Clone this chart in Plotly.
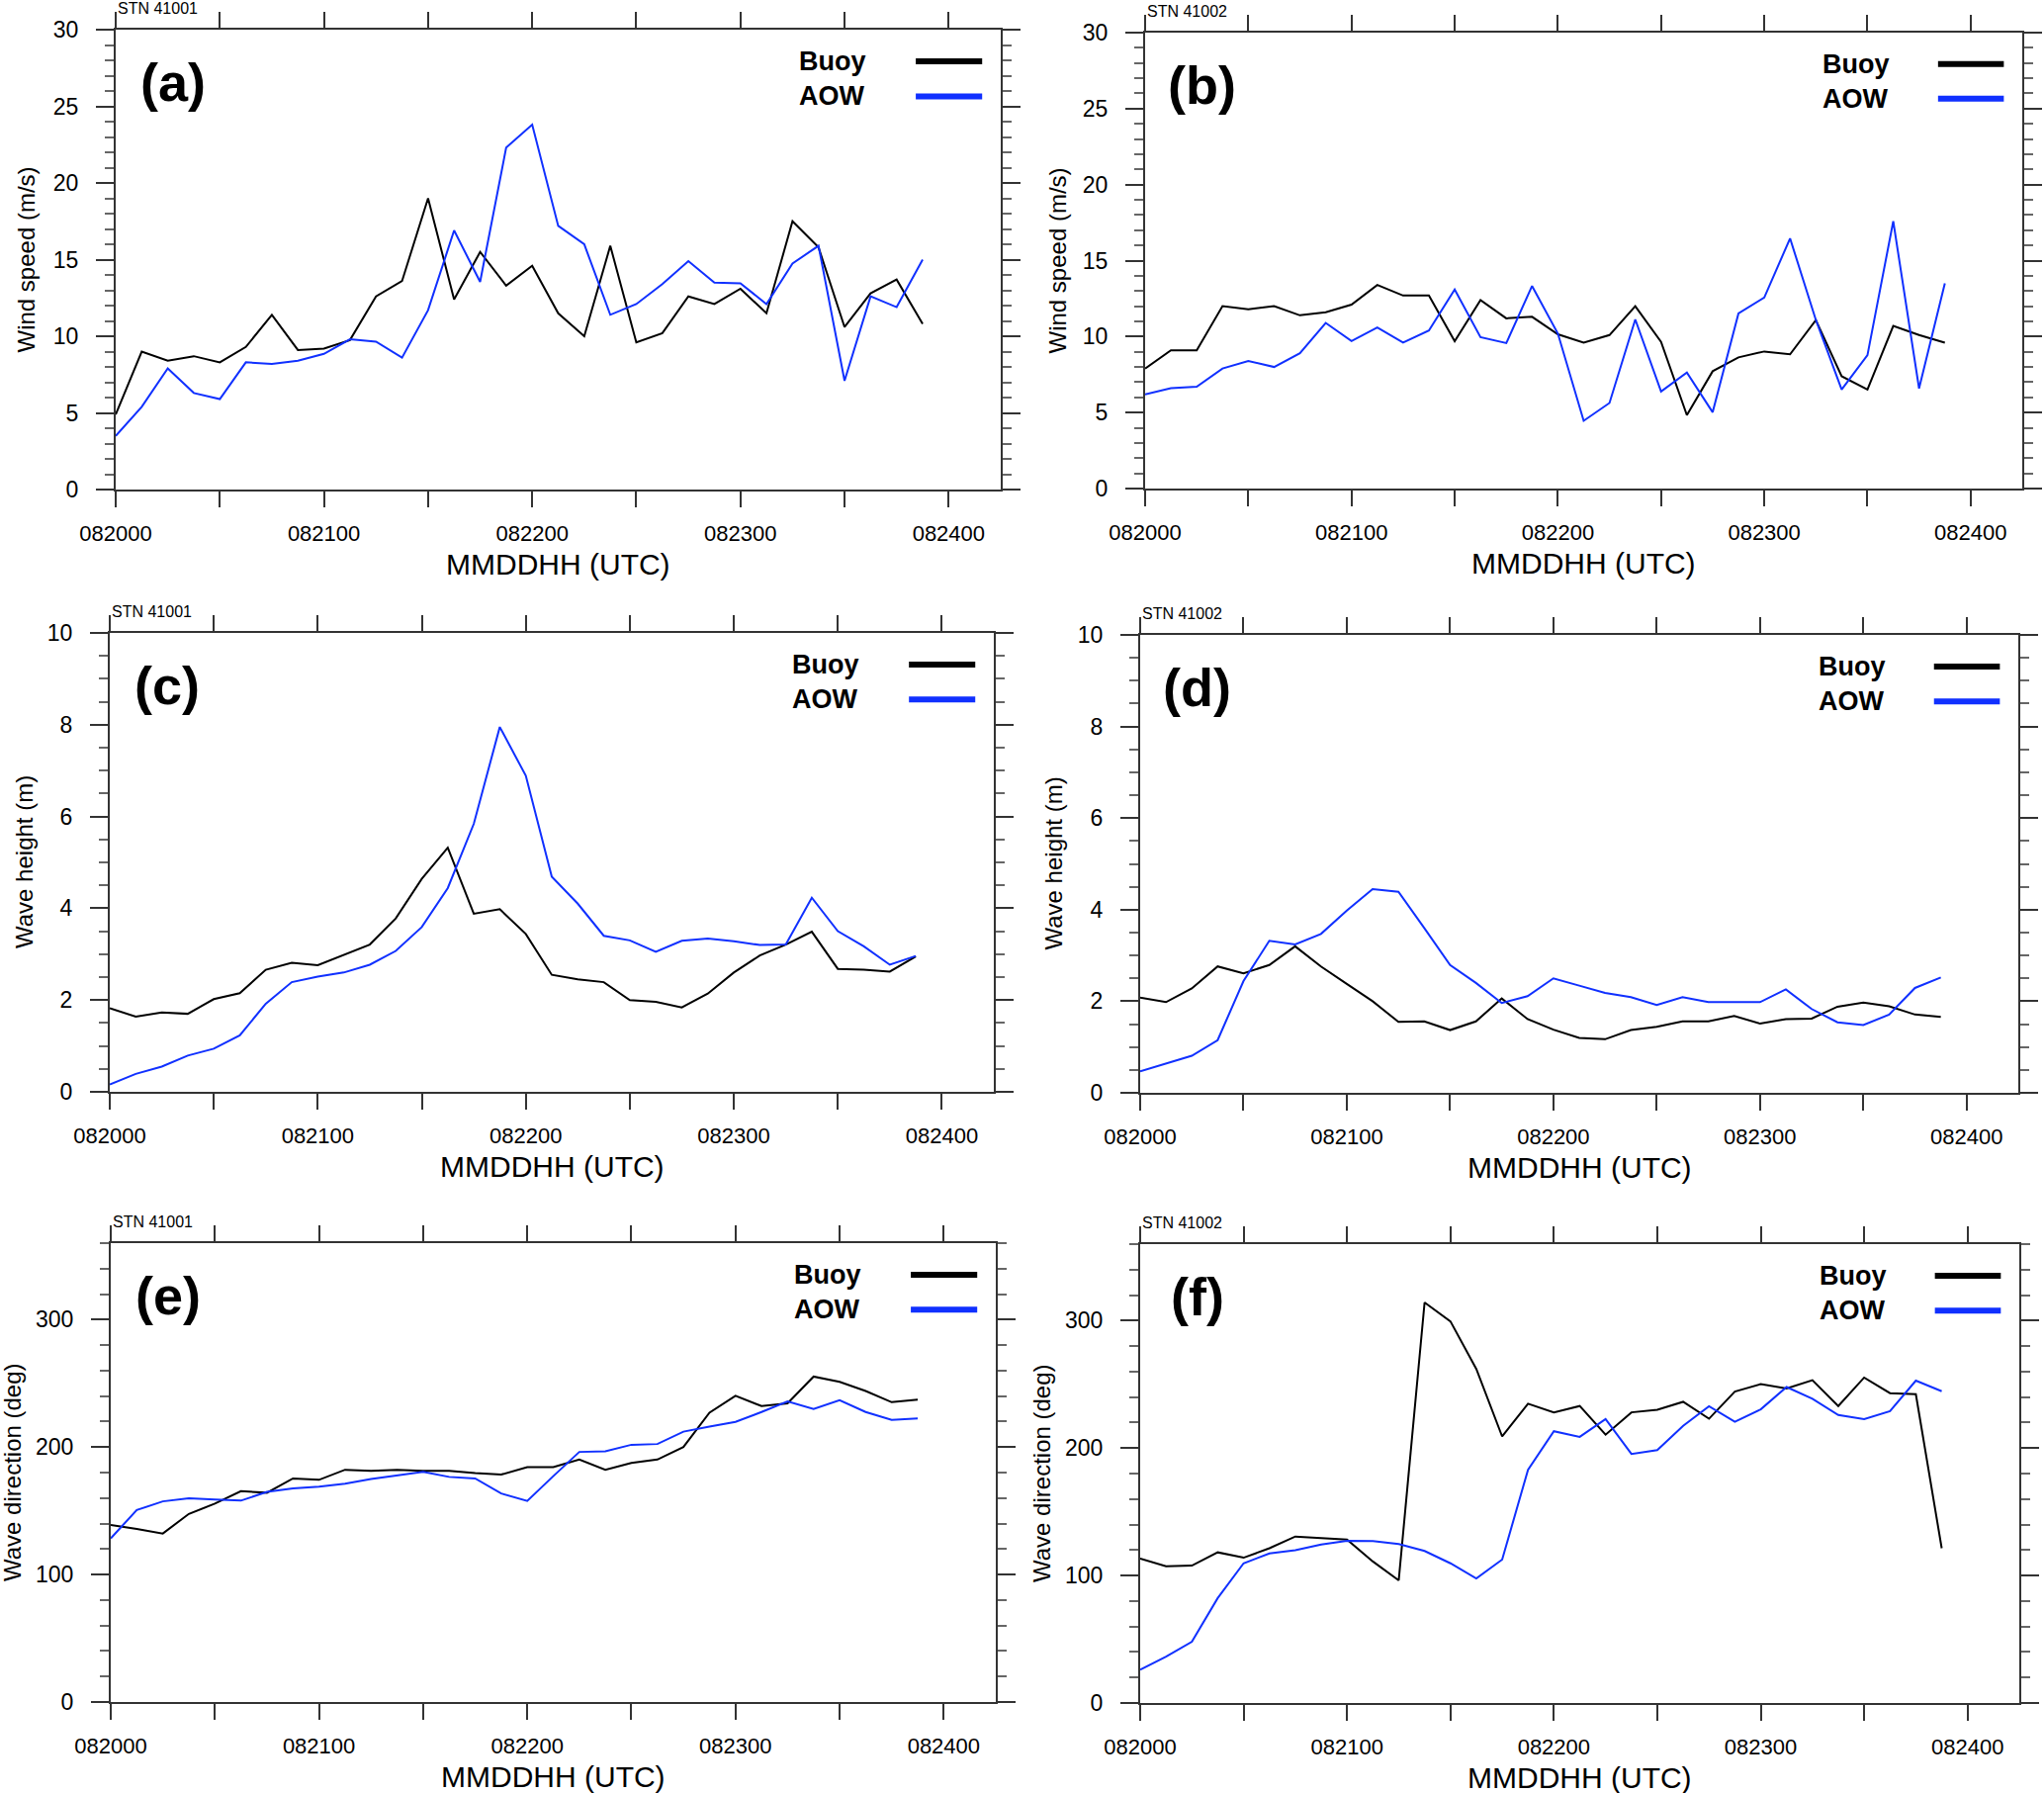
import plotly.graph_objects as go

# ---------------- data ----------------
hours = [0, 3, 6, 9, 12, 15, 18, 21, 24, 27, 30, 33, 36, 39, 42, 45,
         48, 51, 54, 57, 60, 63, 66, 69, 72, 75, 78, 81, 84, 87, 90, 93]

xtick_hours = [0, 12, 24, 36, 48, 60, 72, 84, 96]
xtick_labels = ["082000", "", "082100", "", "082200", "", "082300", "", "082400"]

ws_buoy_41001 = [4.9, 9.0, 8.4, 8.7, 8.3, 9.3, 11.4, 9.1, 9.2, 9.75, 12.6, 13.6, 19.0, 12.4, 15.5, 13.3,
                 14.6, 11.5, 10.0, 15.9, 9.6, 10.2, 12.6, 12.1, 13.1, 11.5, 17.5, 15.8, 10.6, 12.8, 13.7, 10.8]
ws_aow_41001 = [3.5, 5.4, 7.9, 6.3, 5.9, 8.3, 8.2, 8.4, 8.85, 9.8, 9.65, 8.6, 11.7, 16.9, 13.55, 22.3,
                23.8, 17.2, 16.0, 11.4, 12.1, 13.4, 14.9, 13.5, 13.45, 12.1, 14.75, 15.9, 7.1, 12.6, 11.9, 15.0]

ws_buoy_41002 = [7.9, 9.1, 9.1, 12.0, 11.8, 12.0, 11.4, 11.6, 12.1, 13.4, 12.7, 12.7, 9.7, 12.4, 11.2, 11.3,
                 10.15, 9.6, 10.1, 12.0, 9.65, 4.83, 7.72, 8.63, 9.02, 8.83, 11.09, 7.39, 6.52, 10.7, 10.1, 9.6]
ws_aow_41002 = [6.2, 6.6, 6.7, 7.9, 8.4, 8.0, 8.9, 10.9, 9.7, 10.6, 9.6, 10.4, 13.1, 9.96, 9.57, 13.33,
                10.2, 4.46, 5.63, 11.13, 6.39, 7.63, 5.02, 11.52, 12.57, 16.46, 11.1, 6.52, 8.78, 17.59, 6.59, 13.5]

wh_buoy_41001 = [1.82, 1.64, 1.73, 1.70, 2.02, 2.15, 2.66, 2.81, 2.76, 2.98, 3.21, 3.78, 4.64, 5.32, 3.88, 3.98,
                 3.44, 2.55, 2.45, 2.39, 2.00, 1.96, 1.84, 2.14, 2.60, 2.97, 3.21, 3.49, 2.68, 2.66, 2.62, 2.95]
wh_aow_41001 = [0.16, 0.39, 0.55, 0.79, 0.94, 1.23, 1.92, 2.39, 2.51, 2.60, 2.77, 3.07, 3.59, 4.44, 5.84, 7.95,
                6.89, 4.69, 4.10, 3.40, 3.30, 3.05, 3.29, 3.34, 3.28, 3.20, 3.21, 4.23, 3.50, 3.17, 2.77, 2.96]

wh_buoy_41002 = [2.08, 1.98, 2.28, 2.76, 2.61, 2.79, 3.20, 2.76, 2.38, 2.00, 1.55, 1.56, 1.37, 1.56, 2.06, 1.61,
                 1.38, 1.20, 1.17, 1.37, 1.44, 1.56, 1.56, 1.68, 1.51, 1.61, 1.62, 1.88, 1.97, 1.89, 1.71, 1.66]
wh_aow_41002 = [0.47, 0.64, 0.81, 1.15, 2.44, 3.32, 3.24, 3.47, 3.98, 4.45, 4.39, 3.60, 2.79, 2.40, 1.96, 2.11,
                2.50, 2.34, 2.18, 2.09, 1.92, 2.09, 1.98, 1.98, 1.98, 2.26, 1.83, 1.54, 1.48, 1.71, 2.29, 2.52]

wd_buoy_41001 = [138.8, 135.8, 132.2, 147.6, 155.6, 165.4, 164.2, 175.4, 174.3, 182.2, 181.3, 182.2, 181.4, 181.4, 179.6, 178.4,
                 184.3, 184.3, 190.2, 182.2, 187.6, 190.2, 200.0, 227.0, 240.2, 232.2, 234.3, 255.3, 251.2, 244.0, 235.2, 237.3]
wd_aow_41001 = [128.4, 150.6, 157.4, 159.8, 158.9, 158.0, 164.8, 167.5, 168.9, 171.3, 174.9, 177.8, 180.5, 176.6, 175.4, 163.6,
                157.7, 177.2, 196.2, 196.7, 201.8, 202.4, 212.1, 216.0, 219.8, 227.5, 235.8, 229.9, 236.7, 227.5, 221.3, 222.5]

wd_buoy_41002 = [113.4, 107.2, 107.8, 118.2, 114.0, 121.4, 130.6, 129.4, 128.2, 111.0, 96.2, 314.2, 299.4, 262.1, 209.1, 234.8,
                 228.0, 233.0, 210.5, 228.0, 230.1, 236.3, 223.0, 244.3, 250.2, 246.7, 253.2, 233.0, 255.3, 243.1, 242.2, 121.4]
wd_aow_41002 = [26.1, 36.4, 48.0, 82.3, 109.6, 117.3, 119.9, 124.4, 127.3, 127.0, 124.7, 119.3, 109.6, 97.7, 112.5, 183.0,
                213.2, 208.8, 222.7, 195.4, 198.4, 217.4, 232.8, 220.6, 230.4, 247.9, 238.7, 225.9, 222.7, 228.9, 252.9, 244.6]

panel_labels = ["(a)", "(b)", "(c)", "(d)", "(e)", "(f)"]
station_labels = ["STN 41001", "STN 41002", "STN 41001", "STN 41002", "STN 41001", "STN 41002"]
y_titles = ["Wind speed (m/s)", "Wind speed (m/s)", "Wave height (m)", "Wave height (m)",
            "Wave direction (deg)", "Wave direction (deg)"]
x_title = "MMDDHH (UTC)"
series_names = ["Buoy", "AOW"]

buoy_series = [ws_buoy_41001, ws_buoy_41002, wh_buoy_41001, wh_buoy_41002, wd_buoy_41001, wd_buoy_41002]
aow_series = [ws_aow_41001, ws_aow_41002, wh_aow_41001, wh_aow_41002, wd_aow_41001, wd_aow_41002]

# ---------------- layout / styling ----------------
W, H = 2067, 1813
FONT = "Liberation Sans, Arial, Helvetica, sans-serif"
BLACK = "#000000"
BLUE = "#1030ff"

# plot-area boxes in pixels: left, right, top, bottom
boxes = [(117, 1012, 30, 495), (1158, 2045, 33, 494),
         (111, 1005, 640, 1104), (1153, 2041, 642, 1105),
         (112, 1007, 1257, 1721), (1153, 2042, 1258, 1722)]
yranges = [(0, 30, 5, 1), (0, 30, 5, 1), (0, 10, 2, 0.5), (0, 10, 2, 0.5), (0, 360, 100, 20), (0, 360, 100, 20)]
ytitle_off = [91, 89, 87, 88, 100, 100]

fig = go.Figure()
layout = dict(width=W, height=H, margin=dict(l=0, r=0, t=0, b=0, pad=0, autoexpand=False), autosize=False,
              paper_bgcolor="white", plot_bgcolor="white", showlegend=False,
              font=dict(family=FONT, color="black"))
annotations = []
shapes = []

for i in range(6):
    n = "" if i == 0 else str(i + 1)
    L, R, T, B = boxes[i]
    y0, y1, dt, mdt = yranges[i]
    layout["xaxis" + n] = dict(
        domain=[L / W, R / W], anchor="y" + n, range=[0, 102], automargin=False,
        tickmode="array", tickvals=xtick_hours, ticktext=xtick_labels,
        ticks="outside", ticklen=16, tickwidth=2, tickcolor="#333",
        showline=True, linewidth=2, linecolor="#333", mirror="ticks",
        showgrid=False, zeroline=False, tickfont=dict(size=22, family=FONT),
        ticklabelstandoff=8,
    )
    layout["yaxis" + n] = dict(
        domain=[1 - B / H, 1 - T / H], anchor="x" + n, range=[y0, y1], automargin=False,
        tickmode="linear", tick0=0, dtick=dt,
        ticks="outside", ticklen=18, tickwidth=2, tickcolor="#333",
        minor=dict(dtick=mdt, tick0=0, ticks="outside", ticklen=9, tickwidth=1.5, tickcolor="#666"),
        showline=True, linewidth=2, linecolor="#333", mirror="ticks",
        showgrid=False, zeroline=False, tickfont=dict(size=23, family=FONT),
        ticklabelstandoff=13,
    )
    xr, yr = "x" + n, "y" + n
    fig.add_trace(go.Scatter(x=hours, y=buoy_series[i], mode="lines", name=series_names[0],
                             line=dict(color=BLACK, width=2), xaxis=xr, yaxis=yr))
    fig.add_trace(go.Scatter(x=hours, y=aow_series[i], mode="lines", name=series_names[1],
                             line=dict(color=BLUE, width=2), xaxis=xr, yaxis=yr))

    xd, yd = xr + " domain", yr + " domain"
    annotations += [
        dict(text=station_labels[i], xref=xd, yref=yd, x=0, y=1, xanchor="left", yanchor="middle",
             yshift=22, showarrow=False, font=dict(size=16)),
        dict(text="<b>" + panel_labels[i] + "</b>", xref=xd, yref=yd, x=0.065, y=0.886,
             xanchor="center", yanchor="middle", showarrow=False, font=dict(size=54)),
        dict(text="<b>" + series_names[0] + "</b>", xref=xd, yref=yd, x=0.77, y=0.931,
             xanchor="left", yanchor="middle", showarrow=False, font=dict(size=27)),
        dict(text="<b>" + series_names[1] + "</b>", xref=xd, yref=yd, x=0.77, y=0.855,
             xanchor="left", yanchor="middle", showarrow=False, font=dict(size=27)),
        dict(text=y_titles[i], xref=xd, yref=yd, x=0, y=0.5, xshift=-ytitle_off[i],
             xanchor="center", yanchor="middle", textangle=-90, showarrow=False, font=dict(size=24)),
        dict(text=x_title, xref=xd, yref=yd, x=0.5, y=0, yshift=-75,
             xanchor="center", yanchor="middle", showarrow=False, font=dict(size=30)),
    ]
    shapes += [
        dict(type="line", xref=xd, yref=yd, x0=0.904, x1=0.979, y0=0.931, y1=0.931,
             line=dict(color=BLACK, width=6)),
        dict(type="line", xref=xd, yref=yd, x0=0.904, x1=0.979, y0=0.855, y1=0.855,
             line=dict(color=BLUE, width=6)),
    ]

layout["annotations"] = annotations
layout["shapes"] = shapes
fig.update_layout(**layout)
fig.write_html("out.html", config={"displayModeBar": False},
               post_script="document.body.style.margin='0';document.body.style.overflow='hidden';")
